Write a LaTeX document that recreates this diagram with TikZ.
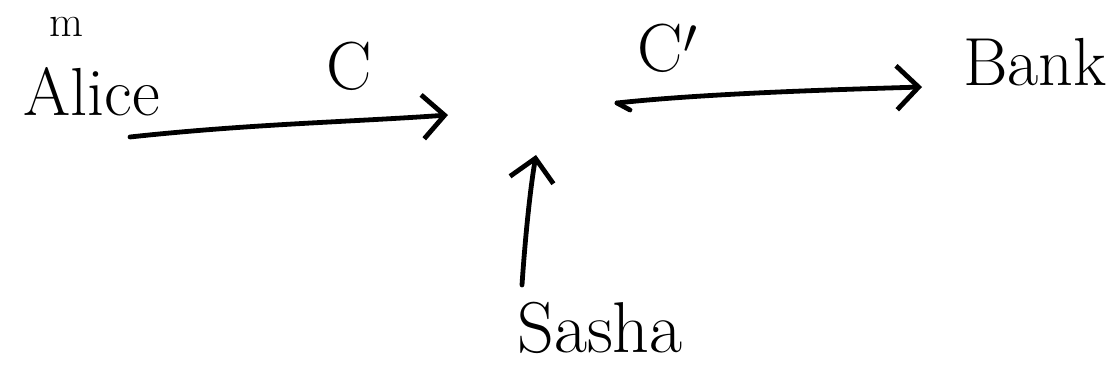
\documentclass[tikz,border=0pt]{standalone}
\usetikzlibrary{arrows.meta}
\begin{document}
\begin{tikzpicture}[x=0.5pt,y=-0.5pt,
  lbl/.style={font=\fontsize{34}{40}\selectfont, inner sep=0pt},
  small/.style={font=\fontsize{22}{26}\selectfont, inner sep=0pt},
  hand/.style={line width=2.4pt, line cap=round, -{Straight Barb[length=11pt,width=22pt,line width=2.4pt]}}]
\useasboundingbox (0,0) rectangle (1118,373);
\node[lbl] (alice) at (92,92) {Alice};
\node[lbl] (c) at (349,66) {C};
\node[lbl] (cp) at (668,48) {C$'$};
\node[lbl] (bank) at (1035,62) {Bank};
\node[lbl,font=\fontsize{36}{42}\selectfont] (sasha) at (600,328) {Sasha};
\node[small] (m) at (66,27) {m};
\coordinate (a1) at (130,137);
\coordinate (a2) at (448,115);
\coordinate (b1) at (617,103);
\coordinate (b2) at (922,87);
\coordinate (s1) at (522,285);
\coordinate (s2) at (536,155);
\draw[hand] (a1) .. controls (250,124) and (350,122) .. (a2);
\draw[hand] (b1) .. controls (700,94) and (820,90) .. (b2);
\draw[line width=2.4pt, line cap=round] (b1) -- (630,110);
\draw[hand] (s1) .. controls (525,240) and (530,190) .. (s2);
\end{tikzpicture}
\end{document}
